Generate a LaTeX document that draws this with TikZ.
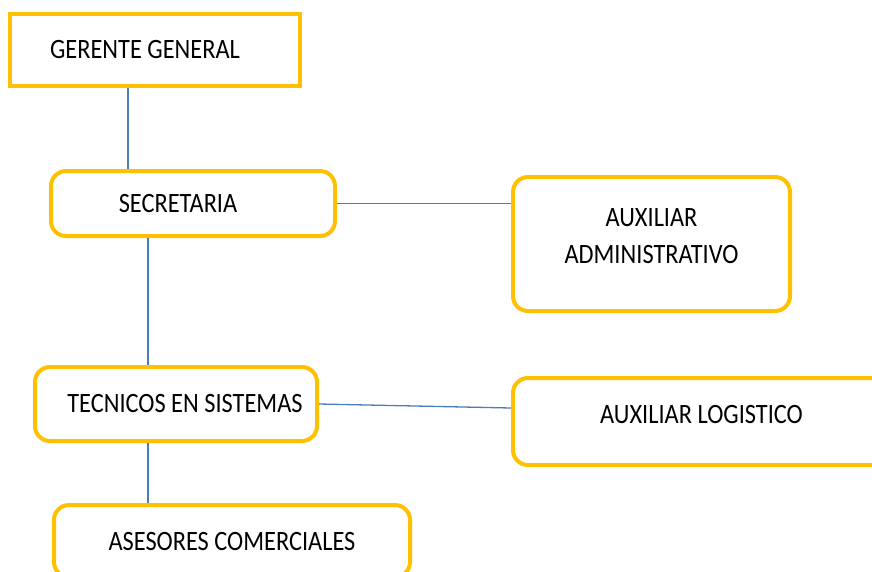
\documentclass[tikz,border=0pt]{standalone}
\usepackage{fontspec}
\setmainfont{Carlito}[FakeStretch=0.87]
\definecolor{boxgold}{HTML}{FFC000}
\definecolor{linkblue}{HTML}{4A7EBB}
\begin{document}
\begin{tikzpicture}[
			x=1pt, y=-1pt,
			font=\fontsize{28}{37}\selectfont,
			cargo/.style={draw=boxgold, line width=4pt, rounded corners=15pt, align=center, inner sep=0pt},
			jefe/.style={cargo, rounded corners=0pt},
			enlace/.style={draw=linkblue, line width=1.3pt}
		]
		\useasboundingbox (0,0) rectangle (872,571);
		\clip (0,0) rectangle (872,571);
		\node[jefe, minimum width=290pt, minimum height=72pt] (gerente) at (155,50) {\hspace*{-20pt}GERENTE GENERAL};
		\node[cargo, minimum width=284pt, minimum height=65pt] (secretaria) at (193,203.5) {\hspace*{-30pt}SECRETARIA};
		\node[cargo, minimum width=277pt, minimum height=134pt] (auxadm) at (651.5,244) {AUXILIAR\\ADMINISTRATIVO\\[-22pt]};
		\node[cargo, minimum width=282pt, minimum height=74pt] (tecnicos) at (176,404) {\hspace*{18pt}TECNICOS EN SISTEMAS};
		\node[cargo, minimum width=377pt, minimum height=87pt] (auxlog) at (701.5,421.5) {AUXILIAR LOGISTICO\\[-22pt]};
		\node[cargo, minimum width=356pt, minimum height=72pt] (asesores) at (232,541) {ASESORES COMERCIALES};
		\draw[enlace] ([xshift=-27pt]gerente.south) -- ([xshift=-27pt]gerente.south |- secretaria.north);
		\draw[enlace] (secretaria.east) -- (secretaria.east -| auxadm.west);
		\draw[enlace] ([xshift=-45pt]secretaria.south) -- ([xshift=-45pt]secretaria.south |- tecnicos.north);
		\draw[enlace] (tecnicos.east) -- ([yshift=13.5pt]auxlog.west);
		\draw[enlace] ([xshift=-28pt]tecnicos.south) -- ([xshift=-28pt]tecnicos.south |- asesores.north);
	\end{tikzpicture}
\end{document}
